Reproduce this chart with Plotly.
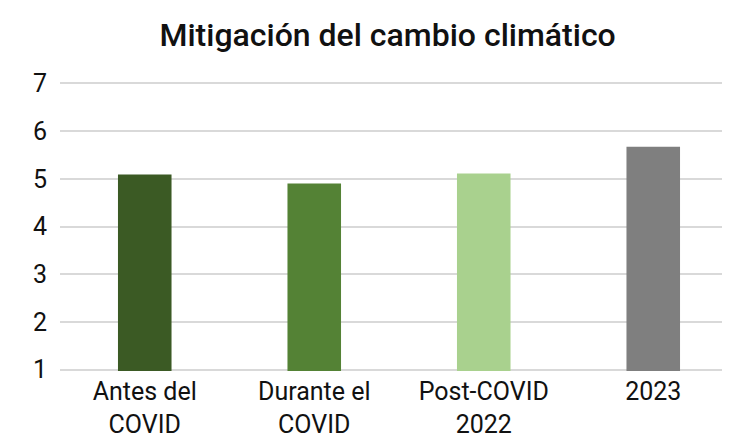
import plotly.graph_objects as go

categories = ["Antes del<br>COVID", "Durante el<br>COVID", "Post-COVID<br>2022", "2023"]
values = [5.09, 4.90, 5.11, 5.67]
colors = ["#3B5A24", "#548235", "#A9D18E", "#7F7F7F"]
y_ticks = [1, 2, 3, 4, 5, 6, 7]

fig = go.Figure(go.Bar(
    x=categories,
    y=values,
    marker=dict(color=colors, line=dict(width=0)),
    width=0.316,
))

fig.update_layout(
    width=730, height=440,
    margin=dict(l=52, r=0, t=74, b=77),
    paper_bgcolor="white", plot_bgcolor="white",
    title=dict(text="Mitigación del cambio climático", x=0.52, xanchor="center",
               y=0.94, yanchor="middle",
               font=dict(family="Roboto", size=32, weight=500, color="#111111")),
    font=dict(family="Roboto", size=25, color="#111111"),
    showlegend=False,
)
fig.update_yaxes(range=[0.97, 7.03], tickvals=y_ticks, showgrid=True, gridcolor="#d9d9d9",
                 gridwidth=1.5, zeroline=False, showline=False, ticks="",
                 ticklabelstandoff=12, tickfont=dict(size=25, color="#111111"))
fig.update_xaxes(showgrid=False, showline=False, ticks="", ticklabelstandoff=3,
                 tickfont=dict(size=25, color="#111111"))

fig.write_html("out.html")
